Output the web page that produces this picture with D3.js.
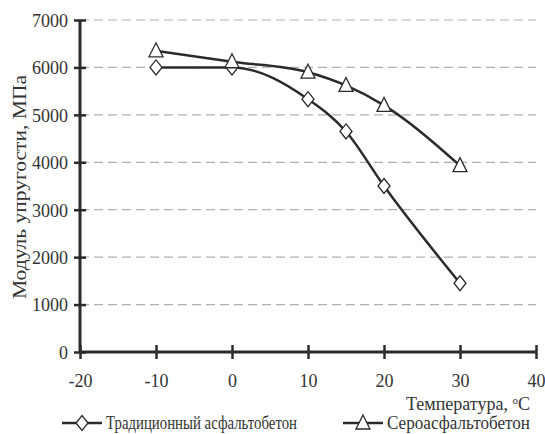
<!DOCTYPE html>
<html>
<head>
<meta charset="utf-8">
<script src="https://cdn.jsdelivr.net/npm/d3@7"></script>
<style>
  body { margin: 0; background: #fff; }
  svg { display: block; }
  svg text { font-family: "Liberation Serif", "Times New Roman", "DejaVu Serif", serif !important; fill: #333; }
</style>
</head>
<body>
<div id="chart"></div>
<script>
// Data
const temps = [-10, 0, 10, 15, 20, 30];
const traditional = [6000, 6000, 5330, 4650, 3500, 1450];
const sulfur = [6350, 6120, 5900, 5620, 5200, 3930];
const xTicks = [-20, -10, 0, 10, 20, 30, 40];
const yTicks = [0, 1000, 2000, 3000, 4000, 5000, 6000, 7000];
const seriesNames = ["Традиционный асфальтобетон", "Сероасфальтобетон"];

const W = 545, H = 434;
const margin = { top: 20, right: 9, bottom: 82, left: 80 };
const width = W - margin.left - margin.right;
const height = H - margin.top - margin.bottom;
const ink = "#2b2b2b";

const svg = d3.select("#chart").append("svg")
    .attr("width", W)
    .attr("height", H);

const g = svg.append("g")
    .attr("transform", "translate(" + margin.left + "," + margin.top + ")");

const x = d3.scaleLinear().domain([-20, 40]).range([0, width]);
const y = d3.scaleLinear().domain([0, 7000]).range([height, 0]);

// dashed grid lines
g.selectAll(".grid")
    .data(yTicks.filter(d => d > 0))
    .enter().append("line")
    .attr("x1", 0)
    .attr("x2", width)
    .attr("y1", d => y(d))
    .attr("y2", d => y(d))
    .attr("stroke", "#b0b0b0")
    .attr("stroke-width", 1.2)
    .attr("stroke-dasharray", "9,5");

const fmt = d => String(d); // plain hyphen minus, no thousands separator

// y axis
const yAxis = g.append("g")
    .call(d3.axisLeft(y).tickValues(yTicks).tickFormat(fmt).tickSize(0).tickPadding(12));
yAxis.select(".domain").remove();
yAxis.selectAll("text")
    .style("font-size", "18px")
    .attr("dy", "0.35em");
yAxis.selectAll(".tick").append("line")
    .attr("x1", -6).attr("x2", 6)
    .attr("stroke", ink).attr("stroke-width", 2.5);

// x axis
const xAxis = g.append("g")
    .attr("transform", "translate(0," + height + ")")
    .call(d3.axisBottom(x).tickValues(xTicks).tickFormat(fmt).tickSize(0).tickPadding(22));
xAxis.select(".domain").remove();
xAxis.selectAll("text")
    .style("font-size", "18px");
xAxis.selectAll(".tick").append("line")
    .attr("y1", -7).attr("y2", 7)
    .attr("stroke", ink).attr("stroke-width", 2.5);

// axis lines
g.append("line")
    .attr("x1", 0).attr("x2", 0)
    .attr("y1", y(7000)).attr("y2", y(0))
    .attr("stroke", ink).attr("stroke-width", 3);
g.append("line")
    .attr("x1", 0).attr("x2", width)
    .attr("y1", y(0)).attr("y2", y(0))
    .attr("stroke", ink).attr("stroke-width", 3);

// lines
const line = d3.line()
    .x(d => x(d[0]))
    .y(d => y(d[1]))
    .curve(d3.curveMonotoneX);

const diamond = "M0,-7.5L6,0L0,7.5L-6,0Z";
const triangle = "M0,-8L7,6L-7,6Z";

[traditional, sulfur].forEach((vals, i) => {
    const pts = temps.map((t, j) => [t, vals[j]]);
    g.append("path")
        .datum(pts)
        .attr("d", line)
        .attr("fill", "none")
        .attr("stroke", ink)
        .attr("stroke-width", 2.5);

    g.selectAll(".m" + i)
        .data(pts)
        .enter().append("path")
        .attr("transform", d => "translate(" + x(d[0]) + "," + y(d[1]) + ")")
        .attr("d", i === 0 ? diamond : triangle)
        .attr("fill", "#fff")
        .attr("stroke", ink)
        .attr("stroke-width", 1.3);
});

// y axis label
svg.append("text")
    .attr("transform", "translate(26,187) rotate(-90)")
    .style("text-anchor", "middle")
    .style("font-size", "19px")
    .attr("textLength", 224)
    .attr("lengthAdjust", "spacingAndGlyphs")
    .text("Модуль упругости, МПа");

// x axis label
const xl = svg.append("text")
    .attr("x", 530)
    .attr("y", 410)
    .style("text-anchor", "end")
    .style("font-size", "18px");
xl.append("tspan").text("Температура, ");
xl.append("tspan").attr("dy", -6).style("font-size", "11px").text("o");
xl.append("tspan").attr("dy", 6).text("C");

// legend
const legendX = [62, 343];
seriesNames.forEach((name, i) => {
    const lg = svg.append("g").attr("transform", "translate(" + legendX[i] + ",423)");
    lg.append("line")
        .attr("x1", 0).attr("x2", 40)
        .attr("stroke", ink).attr("stroke-width", 2.5);
    lg.append("path")
        .attr("transform", "translate(20,0)")
        .attr("d", i === 0 ? diamond : triangle)
        .attr("fill", "#fff")
        .attr("stroke", ink)
        .attr("stroke-width", 1.3);
    lg.append("text")
        .attr("x", 44)
        .attr("y", 6)
        .style("font-size", "18px")
        .attr("textLength", i === 0 ? 191 : 143)
        .attr("lengthAdjust", "spacingAndGlyphs")
        .text(name);
});
</script>
</body>
</html>
